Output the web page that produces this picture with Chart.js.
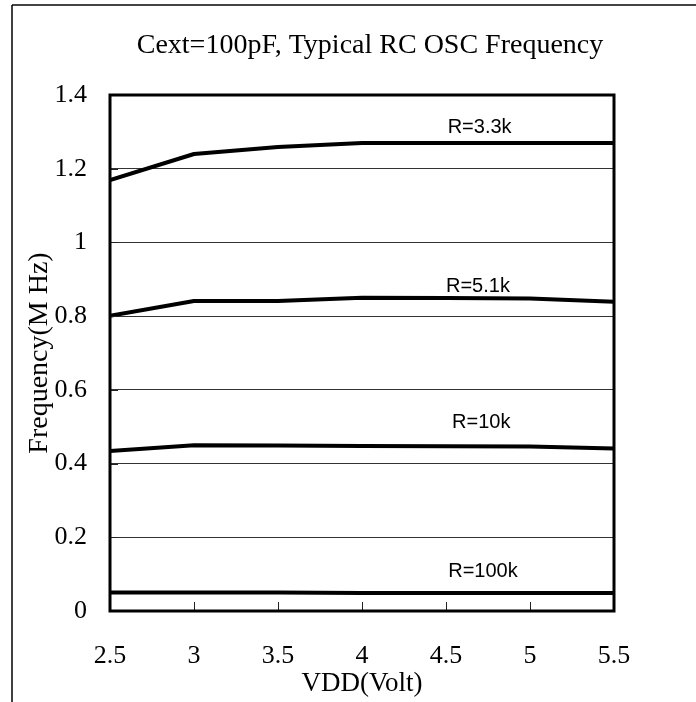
<!DOCTYPE html>
<html>
<head>
<meta charset="utf-8">
<script src="https://cdn.jsdelivr.net/npm/chart.js@4/dist/chart.umd.min.js"></script>
<style>
  html, body { margin: 0; padding: 0; background: #fff; }
  #wrap { width: 696px; height: 702px; position: relative; }
</style>
</head>
<body>
<div id="wrap"><canvas id="rcChart"></canvas></div>
<script>
// supply voltage (V)
const vdd = [2.5, 3, 3.5, 4, 4.5, 5, 5.5];

// frequency in MHz
const r3k3 = [1.169, 1.240, 1.259, 1.270, 1.270, 1.270, 1.270];
const r5k1 = [0.801, 0.841, 0.841, 0.850, 0.849, 0.848, 0.839];
const r10k = [0.434, 0.450, 0.449, 0.448, 0.447, 0.446, 0.441];
const r100k = [0.050, 0.050, 0.050, 0.049, 0.049, 0.049, 0.049];

const seriesNames = ['R=3.3k', 'R=5.1k', 'R=10k', 'R=100k'];
const seriesData = [r3k3, r5k1, r10k, r100k];

const chartTitle = 'Cext=100pF, Typical RC OSC Frequency';
const serif = '"Liberation Serif", "Times New Roman", serif';

// where the curve names sit (data units)
const nameSpots = [[4.70, 1.297], [4.69, 0.866], [4.71, 0.497], [4.72, 0.092]];

const fmt = v => String(Number(v.toFixed(2)));

const framePlugin = {
  id: 'frame',
  beforeDraw(chart) {
    const ctx = chart.ctx;
    ctx.save();
    ctx.strokeStyle = '#444';
    ctx.lineWidth = 2;
    ctx.beginPath();
    ctx.moveTo(12, 5);
    ctx.lineTo(696, 5);
    ctx.stroke();
    ctx.strokeStyle = '#000';
    ctx.lineWidth = 1.5;
    ctx.beginPath();
    ctx.moveTo(12, 5);
    ctx.lineTo(12, 702);
    ctx.stroke();
    // title
    ctx.fillStyle = '#000';
    ctx.font = '28px ' + serif;
    ctx.textAlign = 'center';
    ctx.textBaseline = 'alphabetic';
    ctx.fillText(chartTitle, 370, 53);
    ctx.restore();
  },
  afterDatasetsDraw(chart) {
    const ctx = chart.ctx;
    const a = chart.chartArea;
    const xs = chart.scales.x, ys = chart.scales.y;
    ctx.save();
    // inward tick marks
    ctx.strokeStyle = '#222';
    ctx.lineWidth = 1;
    vdd.forEach(v => {
      const px = Math.round(xs.getPixelForValue(v)) + 0.5;
      ctx.beginPath();
      ctx.moveTo(px, a.bottom);
      ctx.lineTo(px, a.bottom - 9);
      ctx.stroke();
    });
    ys.ticks.forEach(t => {
      const py = Math.round(ys.getPixelForValue(t.value)) + 0.5;
      ctx.beginPath();
      ctx.moveTo(a.left, py);
      ctx.lineTo(a.left + 8, py);
      ctx.stroke();
    });
    // plot border
    ctx.strokeStyle = '#000';
    ctx.lineWidth = 3;
    ctx.strokeRect(a.left, a.top, a.right - a.left, a.bottom - a.top);
    // curve names
    ctx.fillStyle = '#000';
    ctx.font = '20px "Liberation Sans", Arial, sans-serif';
    ctx.textAlign = 'center';
    ctx.textBaseline = 'alphabetic';
    seriesNames.forEach((n, i) => {
      const p = nameSpots[i];
      ctx.fillText(n, xs.getPixelForValue(p[0]), ys.getPixelForValue(p[1]));
    });
    ctx.restore();
  }
};

new Chart(document.getElementById('rcChart'), {
  type: 'line',
  data: {
    labels: vdd,
    datasets: seriesData.map((d, i) => ({
      label: seriesNames[i],
      data: d.map((y, j) => ({ x: vdd[j], y: y })),
      borderColor: '#000',
      borderWidth: 4,
      pointRadius: 0,
      tension: 0,
      borderJoinStyle: 'round',
      fill: false
    }))
  },
  options: {
    responsive: true,
    maintainAspectRatio: false,
    animation: false,
    layout: { padding: { left: 0, top: 95, right: 82, bottom: 0 } },
    plugins: {
      legend: { display: false },
      tooltip: { enabled: false },
      title: { display: false }
    },
    scales: {
      x: {
        type: 'linear',
        min: 2.5,
        max: 5.5,
        grid: { display: false },
        border: { display: false },
        ticks: {
          stepSize: 0.5,
          color: '#000',
          padding: 22,
          maxRotation: 0,
          font: { family: serif, size: 26 },
          callback: fmt
        },
        title: {
          display: true,
          text: 'VDD(Volt)',
          color: '#000',
          font: { family: serif, size: 27 },
          padding: { top: 0, bottom: 2 }
        },
        afterFit(scale) { scale.height = 91; }
      },
      y: {
        min: 0,
        max: 1.4,
        grid: { color: '#333', lineWidth: 1, drawTicks: false },
        border: { display: false },
        ticks: {
          stepSize: 0.2,
          color: '#000',
          padding: 23,
          font: { family: serif, size: 26 },
          callback: fmt
        },
        title: {
          display: true,
          text: 'Frequency(M Hz)',
          color: '#000',
          font: { family: serif, size: 28 },
          padding: { top: 23, bottom: 0 }
        },
        afterFit(scale) { scale.width = 110; }
      }
    }
  },
  plugins: [framePlugin]
});
</script>
</body>
</html>
